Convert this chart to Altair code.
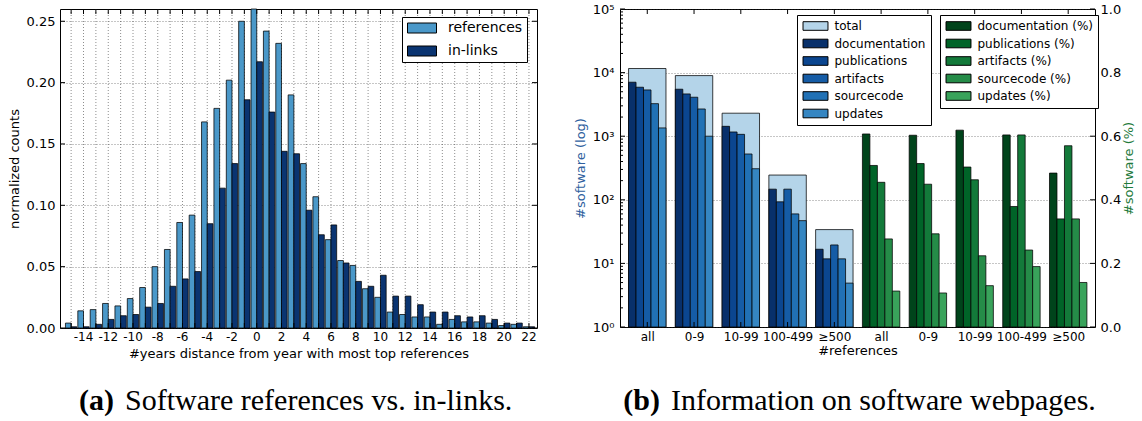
import json
import altair as alt
import pandas as pd

# ---------------- left panel: distance histogram ----------------
years = list(range(-15, 23))
refs = [0.004, 0.014, 0.015, 0.020, 0.018, 0.024, 0.033, 0.050, 0.064, 0.086, 0.092,
        0.168, 0.179, 0.202, 0.250, 0.260, 0.242, 0.232, 0.190, 0.134, 0.107, 0.072, 0.055,
        0.051, 0.032, 0.025, 0.013, 0.011, 0.009, 0.009, 0.003, 0.007, 0.005, 0.005,
        0.004, 0.002, 0.003, 0.001]
links = [0.001, 0.001, 0.003, 0.007, 0.010, 0.011, 0.017, 0.020, 0.034, 0.040, 0.046,
         0.085, 0.114, 0.134, 0.186, 0.217, 0.176, 0.144, 0.142, 0.096, 0.076, 0.084, 0.053,
         0.038, 0.034, 0.043, 0.026, 0.026, 0.019, 0.013, 0.013, 0.010, 0.009, 0.010,
         0.007, 0.004, 0.004, 0.001]
x_labels_left = list(range(-14, 23, 2))
x_label_text = ["-14", "-12", "-10", "-8", "-6", "-4", "-2", "0", "2", "4", "6", "8",
                "10", "12", "14", "16", "18", "20", "22"]
y_ticks_left = [0.0, 0.05, 0.10, 0.15, 0.20, 0.25]

# ---------------- right panel: software webpages ----------------
groups = ["all", "0-9", "10-99", "100-499", "≥500"]
total = [11600, 8970, 2300, 245, 34]
documentation = [7060, 5480, 1430, 147, 16.7]
publications = [5890, 4620, 1165, 93, 11.8]
artifacts = [5340, 4100, 1070, 147, 19.5]
sourcecode = [3250, 2680, 525, 60, 11.8]
updates = [1350, 1000, 308, 47, 4.9]

documentation_pct = [0.607, 0.603, 0.619, 0.604, 0.484]
publications_pct = [0.508, 0.514, 0.503, 0.379, 0.340]
artifacts_pct = [0.455, 0.449, 0.463, 0.604, 0.570]
sourcecode_pct = [0.277, 0.293, 0.224, 0.242, 0.340]
updates_pct = [0.113, 0.107, 0.130, 0.190, 0.140]

series_names = ["documentation", "publications", "artifacts", "sourcecode", "updates"]
blue_colors = ["#08306b", "#0b4690", "#155ca6", "#2171b5", "#3586c2"]
green_colors = ["#00441b", "#006428", "#137a3a", "#258c48", "#39a35b"]
total_color = "#b4d4e9"
ref_color = "#4a98c9"
link_color = "#0a3471"

FONT = "DejaVu Sans"
SERIF = "Liberation Serif"
CAP_SIZE = 30
GRID = dict(color="#333", strokeDash=[1, 2], strokeWidth=0.8, opacity=0.7)
# wide legend swatch: a 2.9:1 rectangle, sized by the symbol area
RECT = "M-2.9,-1H2.9V1H-2.9Z"
EDGE = dict(stroke="black", strokeWidth=1, strokeOpacity=0.75)


def swatch_legend(x, y, size, offset, label_offset, font_size, row_pad, pad):
    return alt.Legend(title=None, orient="none", legendX=x, legendY=y,
                      symbolType=RECT, symbolSize=size, symbolOffset=offset,
                      labelOffset=label_offset, labelFontSize=font_size,
                      rowPadding=row_pad, padding=pad,
                      strokeColor="black", fillColor="white",
                      symbolStrokeColor="black", symbolStrokeWidth=1)


# ================= left chart =================
W1, H1 = 477, 319
BW = 0.46
left_df = pd.DataFrame({
    "year": years * 2,
    "value": refs + links,
    "series": ["references"] * len(years) + ["in-links"] * len(years),
})
xs1 = alt.Scale(domain=[-15.9, 22.65], nice=False, zero=False)
ys1 = alt.Scale(domain=[0, 0.26], nice=False)

xt1 = pd.DataFrame({"v": years})
yt1 = pd.DataFrame({"v": y_ticks_left})
xl1 = pd.DataFrame({"v": x_labels_left, "t": x_label_text})

# dotted vertical grid at every year
vgrid1 = alt.Chart(xt1).mark_rule(**GRID).encode(x=alt.X("v:Q", scale=xs1))

hist = alt.Chart(left_df).transform_calculate(
    x0=f"datum.series == 'references' ? datum.year - {BW} : datum.year"
).transform_calculate(
    x1=f"datum.x0 + {BW}"
).mark_rect(**EDGE).encode(
    x=alt.X("x0:Q", scale=xs1, axis=alt.Axis(
        values=x_labels_left, labels=False,
        title="#years distance from year with most top references",
        grid=False, ticks=False, domain=False, titlePadding=19)),
    x2="x1:Q",
    y=alt.Y("value:Q", scale=ys1, axis=alt.Axis(
        values=y_ticks_left, format=".2f", title="normalized counts",
        grid=True, ticks=False, domain=False, labelPadding=5, titlePadding=5)),
    y2=alt.datum(0),
    color=alt.Color("series:N", scale=alt.Scale(domain=["references", "in-links"],
                                                range=[ref_color, link_color]),
                    legend=swatch_legend(342, 8, 100, 9, 19, 14, 9, 4)),
)

# year tick labels under the frame
xlab1 = alt.Chart(xl1).mark_text(fontSize=12, baseline="top", color="black").encode(
    x=alt.X("v:Q", scale=xs1), y=alt.value(H1 + 4), text="t:N")

tick_top1 = alt.Chart(xt1).mark_rule(color="black").encode(
    x=alt.X("v:Q", scale=xs1), y=alt.value(0), y2=alt.value(5))
tick_bot1 = alt.Chart(xt1).mark_rule(color="black").encode(
    x=alt.X("v:Q", scale=xs1), y=alt.value(H1), y2=alt.value(H1 - 5))
tick_l1 = alt.Chart(yt1).mark_rule(color="black").encode(
    y=alt.Y("v:Q", scale=ys1), x=alt.value(0), x2=alt.value(5))
tick_r1 = alt.Chart(yt1).mark_rule(color="black").encode(
    y=alt.Y("v:Q", scale=ys1), x=alt.value(W1), x2=alt.value(W1 - 5))

cap_a1 = alt.Chart(pd.DataFrame({"t": ["(a)"]})).mark_text(
    font=SERIF, fontSize=CAP_SIZE, fontWeight="bold", align="right", baseline="alphabetic"
).encode(text="t:N", x=alt.value(54), y=alt.value(401))
cap_a2 = alt.Chart(pd.DataFrame({"t": ["Software references vs. in-links."]})).mark_text(
    font=SERIF, fontSize=CAP_SIZE, align="left", baseline="alphabetic"
).encode(text="t:N", x=alt.value(65), y=alt.value(401))

left = alt.layer(vgrid1, hist, xlab1, tick_top1, tick_bot1, tick_l1, tick_r1,
                 cap_a1, cap_a2).properties(width=W1, height=H1)

# ================= right chart =================
W2, H2 = 475, 318
SW = 0.16
blue_rows, green_rows = [], []
for g, v in enumerate(total):
    blue_rows.append({"g": g, "j": -1, "series": "total", "value": v})
for j, (name, vals) in enumerate(zip(series_names,
                                     [documentation, publications, artifacts, sourcecode, updates])):
    for g, v in enumerate(vals):
        blue_rows.append({"g": g, "j": j, "series": name, "value": v})
for j, (name, vals) in enumerate(zip(series_names,
                                     [documentation_pct, publications_pct, artifacts_pct,
                                      sourcecode_pct, updates_pct])):
    for g, v in enumerate(vals):
        green_rows.append({"g": g + len(groups), "j": j, "series": name + " (%)", "value": v})
blue_df = pd.DataFrame(blue_rows)
green_df = pd.DataFrame(green_rows)

xs2 = alt.Scale(domain=[-0.583, 9.573], nice=False, zero=False)
ylog = alt.Scale(type="log", domain=[1, 100000], nice=False)
ypct = alt.Scale(domain=[0, 1], nice=False)
tick_labels = json.dumps(groups + groups, ensure_ascii=False)
sup = json.dumps(["10⁰", "10¹", "10²", "10³", "10⁴", "10⁵"], ensure_ascii=False)

blue_base = alt.Chart(blue_df).transform_calculate(
    x0=f"datum.j < 0 ? datum.g - 0.4 : datum.g - 0.4 + {SW} * datum.j"
).transform_calculate(
    x1=f"datum.j < 0 ? datum.g + 0.4 : datum.x0 + {SW}"
)
blue_color = alt.Color("series:N", scale=alt.Scale(domain=["total"] + series_names,
                                                  range=[total_color] + blue_colors),
                       legend=swatch_legend(177, 6, 74, 7.5, 13, 12, 3.5, 5))
total_bars = blue_base.transform_filter("datum.j < 0").mark_rect(**EDGE).encode(
    x=alt.X("x0:Q", scale=xs2, axis=alt.Axis(
        values=list(range(10)), labelExpr=f"{tick_labels}[datum.value]",
        labelOverlap=False, labelFlush=False,
        title="#references", grid=False, ticks=False, domain=False,
        labelPadding=4, titlePadding=2, labelFontSize=12)),
    x2="x1:Q",
    y=alt.Y("value:Q", scale=ylog, axis=alt.Axis(
        orient="left", values=[1, 10, 100, 1000, 10000, 100000],
        labelExpr=f"{sup}[round(log(datum.value) / LN10)]",
        labelOverlap=False, labelFlush=False,
        title="#software (log)", titleColor="#2f5f9e",
        grid=True, ticks=False, domain=False, labelPadding=6, titlePadding=5)),
    y2=alt.datum(1),
    color=blue_color,
)
blue_bars = blue_base.transform_filter("datum.j >= 0").mark_rect(**EDGE).encode(
    x=alt.X("x0:Q", scale=xs2),
    x2="x1:Q",
    y=alt.Y("value:Q", scale=ylog),
    y2=alt.datum(1),
    color=blue_color,
)
major = pd.DataFrame({"v": [1, 10, 100, 1000, 10000, 100000]})
minor = pd.DataFrame({"v": [k * 10 ** e for e in range(5) for k in range(2, 10)]})
gx = pd.DataFrame({"v": list(range(10))})
tick_major = alt.Chart(major).mark_rule(color="black").encode(
    y=alt.Y("v:Q", scale=ylog), x=alt.value(0), x2=alt.value(5))
tick_minor = alt.Chart(minor).mark_rule(color="black").encode(
    y=alt.Y("v:Q", scale=ylog), x=alt.value(0), x2=alt.value(3))
tick_top2 = alt.Chart(gx).mark_rule(color="black").encode(
    x=alt.X("v:Q", scale=xs2), y=alt.value(0), y2=alt.value(5))
tick_bot2 = alt.Chart(gx).mark_rule(color="black").encode(
    x=alt.X("v:Q", scale=xs2), y=alt.value(H2), y2=alt.value(H2 - 5))

cap_b1 = alt.Chart(pd.DataFrame({"t": ["(b)"]})).mark_text(
    font=SERIF, fontSize=CAP_SIZE, fontWeight="bold", align="right", baseline="alphabetic"
).encode(text="t:N", x=alt.value(40), y=alt.value(401))
cap_b2 = alt.Chart(pd.DataFrame({"t": ["Information on software webpages."]})).mark_text(
    font=SERIF, fontSize=CAP_SIZE, align="left", baseline="alphabetic"
).encode(text="t:N", x=alt.value(51), y=alt.value(401))

log_layer = alt.layer(total_bars, blue_bars, tick_major, tick_minor, tick_top2, tick_bot2,
                      cap_b1, cap_b2)

pct_ticks = pd.DataFrame({"v": [0.0, 0.2, 0.4, 0.6, 0.8, 1.0]})
green_bars = alt.Chart(green_df).transform_calculate(
    x0=f"datum.g - 0.4 + {SW} * datum.j"
).transform_calculate(
    x1=f"datum.x0 + {SW}"
).mark_rect(**EDGE).encode(
    x=alt.X("x0:Q", scale=xs2),
    x2="x1:Q",
    y=alt.Y("value:Q", scale=ypct, axis=alt.Axis(
        orient="right", values=[0.0, 0.2, 0.4, 0.6, 0.8, 1.0], format=".1f",
        labelOverlap=False, labelFlush=False,
        title="#software (%)", titleColor="#1f7a3c", titleAngle=270, titleBaseline="top",
        grid=False, ticks=False, domain=False, labelPadding=5, titlePadding=2)),
    y2=alt.datum(0),
    color=alt.Color("series:N", scale=alt.Scale(domain=[n + " (%)" for n in series_names],
                                                range=green_colors),
                    legend=swatch_legend(320, 6, 74, 7.5, 13, 12, 3.5, 5)),
)
tick_pct = alt.Chart(pct_ticks).mark_rule(color="black").encode(
    y=alt.Y("v:Q", scale=ypct), x=alt.value(W2), x2=alt.value(W2 - 5))
pct_layer = alt.layer(green_bars, tick_pct)

right = alt.layer(log_layer, pct_layer).resolve_scale(
    y="independent", color="independent"
).properties(width=W2, height=H2)

chart = alt.hconcat(left, right, spacing=83, bounds="flush").properties(
    padding={"left": 7, "top": 2, "right": 0, "bottom": 0}
).configure(
    font=FONT,
).configure_view(
    stroke="black", strokeWidth=1,
).configure_axis(
    labelFont=FONT, titleFont=FONT, labelFontSize=13, titleFontSize=13,
    labelColor="black", titleColor="black", titleFontWeight="normal",
    gridColor="#333", gridDash=[1, 2], gridWidth=0.8, gridOpacity=0.7,
).configure_legend(
    labelFont=FONT, labelColor="black", cornerRadius=0,
)

chart.save("out.html", embed_options={"renderer": "svg", "actions": False})
